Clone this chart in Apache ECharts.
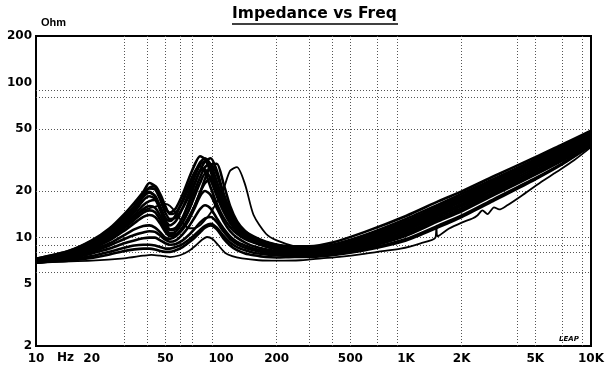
<!DOCTYPE html>
<html>
<head>
<meta charset="utf-8">
<title>Impedance vs Freq</title>
<script src="https://cdn.jsdelivr.net/npm/echarts@6/dist/echarts.min.js"></script>
<style>
  html, body { margin: 0; padding: 0; background: #fff; }
  #chart { width: 606px; height: 367px; }
</style>
</head>
<body>
<div id="chart"></div>
<script>
// frequency points shared by the measured curves (Hz)
const freqHz = [10, 15, 20, 25, 30, 34, 38, 41, 44, 47, 50, 53, 57, 62, 67, 72, 77, 82, 88, 95,
  103, 112, 122, 135, 150, 175, 200, 250, 300, 400, 600, 1000, 1500, 2000, 3000, 5000, 7000, 10000]

// impedance of each unit (Ohm)
const z01 = [7.3, 8.2, 9.6, 11.5, 14.2, 16.8, 19.8, 22.5, 21.5, 18, 15.5, 14.5, 15.5, 19, 24, 29.5, 33.5, 32, 26.5, 20.5,
  16, 13.2, 11.6, 10.5, 9.8, 9.2, 8.9, 8.6, 8.6, 9.0, 10.4, 13.2, 16.4, 19.2, 24, 32, 39, 48]
const z02 = [7.2, 8.0, 9.3, 11, 13.5, 15.8, 19, 20.8, 20.5, 17.5, 14.5, 13.2, 13.5, 15.5, 18.5, 22.5, 27, 31, 32.5, 27,
  19.5, 15, 12.5, 11, 10.2, 9.4, 9.0, 8.5, 8.4, 8.8, 10.1, 12.8, 16, 18.6, 23.4, 31.2, 38.2, 47]
const z03 = [7.2, 8.0, 9.2, 10.8, 13.2, 15.5, 18.8, 19.8, 18.5, 15.5, 13, 12, 12.8, 15.5, 19.5, 24.5, 29.5, 31, 27.5, 21,
  16, 13, 11.3, 10.3, 9.6, 9.0, 8.7, 8.3, 8.3, 8.7, 9.9, 12.4, 15.6, 18, 22.8, 30.4, 37.3, 46]
const z04 = [7.1, 7.9, 9.0, 10.5, 12.6, 14.6, 17.4, 18.5, 17.8, 15, 12.5, 11.3, 11.6, 13.4, 16.2, 20, 24.5, 28.5, 30, 25.5,
  19, 14.5, 12, 10.6, 9.8, 9.1, 8.7, 8.2, 8.2, 8.5, 9.6, 12.0, 15.1, 17.5, 22.2, 29.6, 36.4, 45]
const z05 = [7.0, 7.8, 8.8, 10.2, 12.2, 14, 16.2, 17.2, 17.5, 15.5, 12.8, 11.2, 11.3, 13.5, 17, 22, 27, 27.5, 23.5, 18.5,
  14.8, 12.4, 11, 10, 9.4, 8.8, 8.5, 8.1, 8.1, 8.4, 9.4, 11.7, 14.7, 17.0, 21.6, 28.8, 35.5, 44]
const z06 = [7.0, 7.7, 8.7, 10, 11.8, 13.5, 15.3, 16, 15.6, 13.8, 11.8, 10.7, 10.9, 12.5, 15, 18.5, 22.5, 25.8, 24.5, 20,
  15.5, 12.8, 11.2, 10.1, 9.4, 8.8, 8.5, 8.0, 8.0, 8.3, 9.2, 11.4, 14.3, 16.5, 21, 28, 34.6, 43]
const z07 = [7.0, 7.6, 8.5, 9.6, 11.1, 12.4, 13.6, 14, 13.6, 12.3, 10.9, 10.2, 10.4, 11.6, 13.5, 16, 19.5, 22.5, 24, 21,
  16.5, 13.3, 11.4, 10.2, 9.4, 8.8, 8.4, 7.9, 7.9, 8.2, 9.0, 11.1, 13.9, 16, 20.4, 27.2, 33.7, 42]
const z08 = [6.9, 7.5, 8.3, 9.2, 10.4, 11.3, 11.9, 12, 11.6, 10.8, 10.0, 9.8, 10.2, 11.3, 13, 15.5, 18.5, 20, 18.8, 15.5,
  12.8, 11, 10, 9.3, 8.8, 8.4, 8.2, 7.9, 7.85, 8.1, 8.9, 10.8, 13.5, 15.5, 19.8, 26.5, 32.8, 41.2]
const z09 = [6.9, 7.4, 8.1, 8.9, 9.8, 10.4, 10.8, 11, 10.9, 10.3, 9.7, 9.4, 9.6, 10.5, 11.8, 13.5, 15.3, 16.2, 15.4, 13.3,
  11.5, 10.2, 9.4, 8.9, 8.5, 8.2, 8.0, 7.8, 7.8, 8.0, 8.7, 10.5, 13.1, 15.1, 19.3, 26, 32, 40.5]
const z10 = [6.9, 7.3, 7.9, 8.5, 9.2, 9.6, 9.9, 10, 10, 9.6, 9.2, 9.0, 9.1, 9.6, 10.4, 11.4, 12.5, 13.3, 13.6, 12.6,
  11, 9.8, 9.1, 8.6, 8.3, 8.0, 7.9, 7.7, 7.7, 7.9, 8.6, 10.3, 12.8, 14.8, 18.9, 25.5, 31.4, 40]
const z11 = [6.9, 7.2, 7.6, 8.1, 8.6, 8.9, 9.0, 9.0, 8.9, 8.7, 8.5, 8.5, 8.7, 9.1, 9.7, 10.4, 11.2, 11.9, 12.3, 11.6,
  10.3, 9.3, 8.7, 8.3, 8.0, 7.8, 7.7, 7.6, 7.6, 7.8, 8.4, 9.8, 12.0, 13.9, 17.8, 24.2, 30.2, 39.5]
const z12 = [7.3, 8.2, 9.5, 11.2, 13.6, 16, 19.2, 21, 21.5, 19, 16, 14.2, 14.5, 17, 21, 26, 30.5, 32.5, 29.5, 23,
  17.5, 14, 12, 10.8, 10, 9.3, 9.0, 8.8, 8.8, 9.3, 10.9, 13.8, 17.2, 19.9, 25, 33, 40, 49]
const z13 = [7.1, 7.9, 9.1, 10.7, 13, 15.2, 18.3, 19.5, 18.6, 15.8, 13.5, 12.8, 14, 17.5, 22, 26.5, 29, 26.5, 21, 16.5,
  13.5, 11.7, 10.6, 9.8, 9.3, 8.8, 8.5, 8.15, 8.1, 8.45, 9.5, 11.8, 14.9, 17.2, 21.9, 29.2, 35.9, 44.5]
const z14 = [7.0, 7.7, 8.6, 9.8, 11.5, 13, 14.5, 15, 14.6, 13, 11.3, 10.5, 10.5, 11.6, 13.4, 16, 19.5, 24, 29.5, 30,
  22.5, 16, 12.8, 11, 10, 9.2, 8.8, 8.35, 8.3, 8.6, 9.8, 12.2, 15.3, 17.8, 22.5, 30, 36.8, 45.5]
const z15 = [6.9, 7.1, 7.4, 7.8, 8.2, 8.4, 8.5, 8.5, 8.4, 8.2, 8.1, 8.1, 8.3, 8.7, 9.3, 10.0, 10.8, 11.6, 12.0, 11.3,
  9.9, 8.9, 8.3, 7.9, 7.7, 7.5, 7.45, 7.5, 7.5, 7.7, 8.3, 9.6, 11.7, 13.6, 17.4, 23.8, 29.8, 39.2]
// the unit whose upper peak sits near 120 Hz
const zPeak120 = [7.1, 7.8, 8.8, 10, 12, 13.5, 15, 15.5, 15.8, 16.2, 16.5, 16, 14.5, 12.5, 11.5, 11.5, 12, 13, 14.5, 17,
  20.5, 27, 28.5, 22, 14, 10.6, 9.6, 8.8, 8.6, 8.9, 10, 12.6, 15.8, 18.3, 23.2, 30.8, 37.8, 46.5]

// lowest curve, read on its own points because of the ripple above 1 kHz
const lowFreqHz = [10, 20, 30, 38, 42, 47, 53, 60, 67, 73, 79, 84, 90, 97, 105, 115, 130, 160, 200, 270,
  350, 450, 567, 700, 935, 1200, 1440, 1460, 1480, 1700, 2000, 2285, 2430, 2590, 2760, 2990, 3190, 3530, 4200, 5350,
  6500, 8100, 10000]
const zLow = [6.9, 7.1, 7.35, 7.65, 7.75, 7.65, 7.5, 7.7, 8.2, 8.9, 9.7, 10.1, 9.8, 8.9, 8.0, 7.6, 7.35, 7.15, 7.1, 7.15,
  7.35, 7.55, 7.8, 8.1, 8.5, 9.2, 10.0, 11.8, 10.2, 11.4, 12.5, 13.3, 13.9, 15.0, 14.2, 15.7, 15.2, 16.2, 18.6, 22.8,
  26.5, 31.6, 38.4]

// axis labels and the dotted grid
const xLabelHz = [10, 20, 50, 100, 200, 500, 1000, 2000, 5000, 10000]
const xLabelText = ['10', '20', '50', '100', '200', '500', '1K', '2K', '5K', '10K']
const yLabelOhm = [2, 5, 10, 20, 50, 100, 200]
const xGridHz = [30, 40, 50, 60, 70, 90, 200, 300, 400, 500, 700, 900, 2000, 4000, 5000, 7000, 9000]
const yGridOhm = [6, 8, 9, 10, 20, 50, 80, 90]

const font = 'DejaVu Sans'
const gridDots = {color: '#555', type: [1, 2], width: 1}
const labelStyle = {color: '#000', fontFamily: font, fontWeight: 'bold', fontSize: 12}

function curve(freqs, ohms, width) {
  return {
    type: 'line',
    xAxisIndex: 0,
    yAxisIndex: 0,
    symbol: 'none',
    smooth: 0.25,
    silent: true,
    data: freqs.map((f, i) => [f, ohms[i]]),
    lineStyle: {color: '#000', width: width}
  }
}

const units = [z15, z11, z10, z09, z08, z07, z06, z05, z04, z13, z03, z14, z02, z12, z01]
const series = units.map(z => curve(freqHz, z, 2.6))
series.push(curve(freqHz, zPeak120, 1.8))
series.push(curve(lowFreqHz, zLow, 1.8))

const chart = echarts.init(document.getElementById('chart'))
chart.setOption({
  animation: false,
  title: {
    text: 'Impedance vs Freq',
    left: 232,
    top: 6,
    padding: 0,
    textStyle: {fontFamily: font, fontWeight: 'bold', fontSize: 15.5, color: '#000'}
  },
  grid: {
    left: 36, right: 15, top: 36, bottom: 21,
    show: true,
    borderColor: '#000',
    borderWidth: 2,
    outerBoundsMode: 'none'
  },
  xAxis: [
    {type: 'log', logBase: 10, min: 10, max: 10000, show: false},
    {
      type: 'value',
      min: 1,
      max: 4,
      position: 'bottom',
      axisLine: {show: false},
      axisTick: {show: false, customValues: xGridHz.map(Math.log10)},
      splitLine: {show: true, lineStyle: gridDots},
      axisLabel: Object.assign({
        margin: 7,
        customValues: xLabelHz.map(Math.log10),
        formatter: v => {
          const i = xLabelHz.findIndex(h => Math.abs(Math.log10(h) - v) < 1e-6)
          return i < 0 ? '' : xLabelText[i]
        }
      }, labelStyle)
    }
  ],
  yAxis: [
    {type: 'log', logBase: 10, min: 2, max: 200, show: false},
    {
      type: 'value',
      min: Math.log10(2),
      max: Math.log10(200),
      position: 'left',
      axisLine: {show: false},
      axisTick: {show: false, customValues: yGridOhm.map(Math.log10)},
      splitLine: {show: true, lineStyle: gridDots},
      axisLabel: Object.assign({
        margin: 4,
        customValues: yLabelOhm.map(Math.log10),
        formatter: v => {
          const i = yLabelOhm.findIndex(o => Math.abs(Math.log10(o) - v) < 1e-6)
          return i < 0 ? '' : String(yLabelOhm[i])
        }
      }, labelStyle)
    }
  ],
  graphic: [
    {type: 'line', shape: {x1: 232, y1: 24, x2: 398, y2: 24}, style: {stroke: '#000', lineWidth: 1.5}},
    {type: 'text', left: 41, top: 17, style: {text: 'Ohm', font: 'bold 11px "Liberation Sans"', fill: '#000'}},
    {type: 'text', left: 57, top: 352, style: {text: 'Hz', font: 'bold 12px "DejaVu Sans"', fill: '#000'}},
    {type: 'text', left: 559, top: 336, style: {text: 'LEAP', font: 'italic bold 7px "DejaVu Sans"', fill: '#000'}}
  ],
  series: series
})
</script>
</body>
</html>
